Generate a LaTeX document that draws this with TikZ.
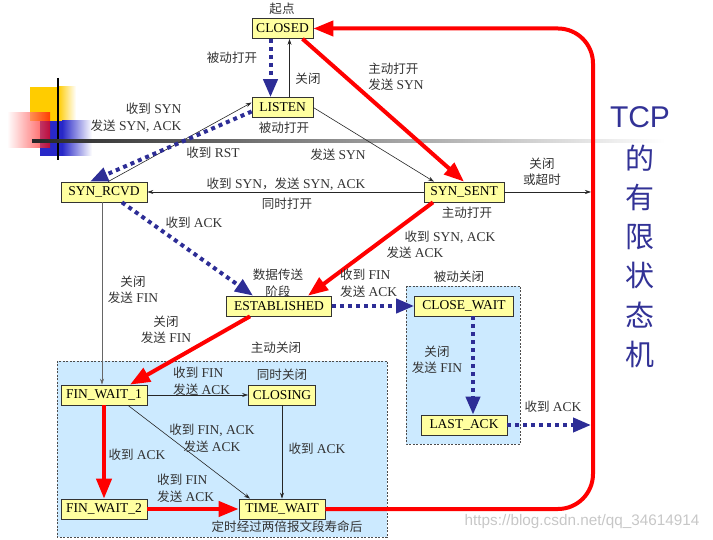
\documentclass[tikz,border=0pt]{standalone}
\usepackage{fontspec}
\setmainfont{Liberation Serif}
\newfontfamily\cjk[Scale=0.93]{Noto Sans CJK SC}
\newfontfamily\bigcjk{Noto Sans CJK SC}
\newfontfamily\arialfont{Liberation Sans}
\usetikzlibrary{arrows.meta}
\newcommand{\zh}[1]{{\cjk #1}}
\definecolor{stateyellow}{RGB}{255,255,160}
\definecolor{zoneblue}{RGB}{204,234,255}
\definecolor{dotblue}{RGB}{45,45,150}
\definecolor{titleblue}{RGB}{50,50,150}
\definecolor{loopred}{RGB}{255,0,0}
\definecolor{decoyellow}{RGB}{255,204,0}
\definecolor{decoblue}{RGB}{40,40,200}

\begin{document}
\begin{tikzpicture}[x=1pt,y=-1pt,
  state/.style={draw=black!80, line width=0.7pt, fill=stateyellow, inner xsep=3pt, inner ysep=0pt, minimum height=20pt, font=\fontsize{13.5}{16}\selectfont},
  lbl/.style={text=black!80, inner sep=0pt, font=\fontsize{13.5}{16.5}\selectfont},
  plainarrow/.style={black!85, line width=0.6pt, -{Stealth[length=6pt,width=4pt]}},
  redarrow/.style={loopred, line width=4pt, -{Triangle[length=20pt,width=15pt]}},
  bluedots/.style={dotblue, line width=4pt, dash pattern=on 4pt off 4pt, -{Triangle[length=18pt,width=14pt]}},
  zone/.style={draw=black!70, fill=zoneblue, line width=0.6pt, dash pattern=on 2pt off 1.5pt},
  titlech/.style={text=titleblue, inner sep=0pt, font=\bigcjk\fontsize{29}{30}\selectfont}]
\useasboundingbox (0,0) rectangle (713,540);

\fill[decoyellow] (30,87) rectangle (58,121);
\shade[left color=decoyellow, right color=white] (58,87) rectangle (76,121);
\fill[decoblue] (40,121) rectangle (62,156);
\shade[left color=decoblue, right color=white] (62,121) rectangle (92,156);
\shade[left color=white, right color=loopred, opacity=0.7] (7,113) rectangle (50,148);
\draw[line width=1.5pt] (58,78) -- (58,160);
\shade[left color=black!85, right color=white] (32,140) rectangle (665,142.5);

\draw[zone] (57,361) rectangle (387,537);
\draw[zone] (406,286) rectangle (520,444);

\coordinate (rx) at (593,0);

\node[state, minimum width=61] (closed) at (282.5,28.5) {CLOSED};
\node[state, minimum width=61] (listen) at (282.5,107.5) {LISTEN};
\node[state, minimum width=86] (srcvd) at (104,192) {SYN\_RCVD};
\node[state, minimum width=80] (ssent) at (464,192) {SYN\_SENT};
\node[state, minimum width=105] (est) at (279,306) {ESTABLISHED};
\node[state, minimum width=99] (cw) at (464,306) {CLOSE\_WAIT};
\node[state, minimum width=86] (la) at (464,425) {LAST\_ACK};
\node[state, minimum width=86] (fw1) at (104,395) {FIN\_WAIT\_1};
\node[state, minimum width=67] (closing) at (282,395) {CLOSING};
\node[state, minimum width=86] (fw2) at (104,509) {FIN\_WAIT\_2};
\node[state, minimum width=86] (tw) at (282,509) {TIME\_WAIT};

\draw[plainarrow] ([xshift=7]listen.north) -- ([xshift=7]closed.south);
\draw[plainarrow] ([xshift=4]srcvd.north) -- ([yshift=5]listen.west);
\draw[plainarrow] (listen.east) -- ([xshift=-30]ssent.north);
\draw[plainarrow] (ssent.west) -- (srcvd.east);
\draw[plainarrow, shorten >=2pt] (ssent.east) -- (ssent.east -| rx);
\draw[plainarrow, black!60] ([xshift=-2]srcvd.south) -- ([xshift=-2]fw1.north);
\draw[plainarrow] (fw1.east) -- (closing.west);
\draw[plainarrow] ([xshift=24]fw1.south) -- ([xshift=-32]tw.north);
\draw[plainarrow] (closing.south) -- (tw.north);

\draw[bluedots] ([xshift=-12]closed.south) -- ([xshift=-12]listen.north);
\draw[bluedots] ([yshift=-4]listen.west) -- ([xshift=-14]srcvd.north);
\draw[bluedots] ([xshift=18]srcvd.south) -- ([xshift=-26]est.north);
\draw[bluedots] (est.east) -- (cw.west);
\draw[bluedots] ([xshift=9]cw.south) -- ([xshift=9]la.north);
\draw[bluedots, shorten >=2pt] (la.east) -- (la.east -| rx);

\draw[redarrow] ([xshift=20]closed.south) -- (ssent.north);
\draw[redarrow] ([xshift=-31]ssent.south) -- ([xshift=29]est.north);
\draw[redarrow] ([xshift=-29]est.south) -- ([xshift=26]fw1.north);
\draw[redarrow] (fw1.south) -- (fw2.north);
\draw[redarrow] (fw2.east) -- (tw.west);
\draw[redarrow, rounded corners=35pt] (tw.east) -- (tw.east -| rx) -- (rx |- closed.east) -- (closed.east);

\node[lbl] (qidian) at (282,9) {\zh{起点}};
\node[lbl] (l1) at (232,58) {\zh{被动打开}};
\node[lbl] (l2) at (308,79) {\zh{关闭}};
\node[lbl, align=left] (l3) at (396,77) {\zh{主动打开}\\\zh{发送} SYN};
\node[lbl, align=right] (l4) at (136,118) {\zh{收到} SYN\\\zh{发送} SYN, ACK};
\node[lbl] (l5) at (284,128) {\zh{被动打开}};
\node[lbl] (l6) at (213,153) {\zh{收到} RST};
\node[lbl] (l7) at (338,155) {\zh{发送} SYN};
\node[lbl] (l8) at (286,184) {\zh{收到} SYN\zh{，发送} SYN, ACK};
\node[lbl] (l9) at (287,204) {\zh{同时打开}};
\node[lbl, align=center] (l10) at (542,172) {\zh{关闭}\\\zh{或超时}};
\node[lbl] (l11) at (467,213) {\zh{主动打开}};
\node[lbl] (l12) at (450,237) {\zh{收到} SYN, ACK};
\node[lbl] (l13) at (415,253) {\zh{发送} ACK};
\node[lbl] (l14) at (194,223) {\zh{收到} ACK};
\node[lbl, align=center] (l15) at (278,283) {\zh{数据传送}\\\zh{阶段}};
\node[lbl, align=center] (l16) at (133,290) {\zh{关闭}\\\zh{发送} FIN};
\node[lbl, align=center] (l17) at (166,330) {\zh{关闭}\\\zh{发送} FIN};
\node[lbl] (l18) at (276,348) {\zh{主动关闭}};
\node[lbl, align=left, anchor=west] (l19) at (340,283) {\zh{收到} FIN\\\zh{发送} ACK};
\node[lbl] (l20) at (459,277) {\zh{被动关闭}};
\node[lbl, align=center] (l21) at (437,360) {\zh{关闭}\\\zh{发送} FIN};
\node[lbl] (l22) at (553,407) {\zh{收到} ACK};
\node[lbl, align=left, anchor=west] (l23) at (173,381) {\zh{收到} FIN\\\zh{发送} ACK};
\node[lbl] (l24) at (282,375) {\zh{同时关闭}};
\node[lbl, align=center] (l25) at (212,438) {\zh{收到} FIN, ACK\\\zh{发送} ACK};
\node[lbl] (l26) at (317,449) {\zh{收到} ACK};
\node[lbl] (l27) at (137,455) {\zh{收到} ACK};
\node[lbl, align=left, anchor=west] (l28) at (157,488) {\zh{收到} FIN\\\zh{发送} ACK};
\node[lbl] (l29) at (287,527) {\zh{定时经过两倍报文段寿命后}};

\node[text=titleblue, inner sep=0pt, font=\arialfont\fontsize{30}{32}\selectfont] (tcp) at (640,117) {TCP};
\foreach \ch [count=\i] in {的,有,限,状,态,机}
  \node[titlech] (t\i) at (640,{119+39.2*\i}) {\ch};

\node[text=black!22, inner sep=0pt, font=\arialfont\fontsize{15.3}{17}\selectfont] (wm) at (582,522) {https://blog.csdn.net/qq\_34614914};
\end{tikzpicture}
\end{document}
